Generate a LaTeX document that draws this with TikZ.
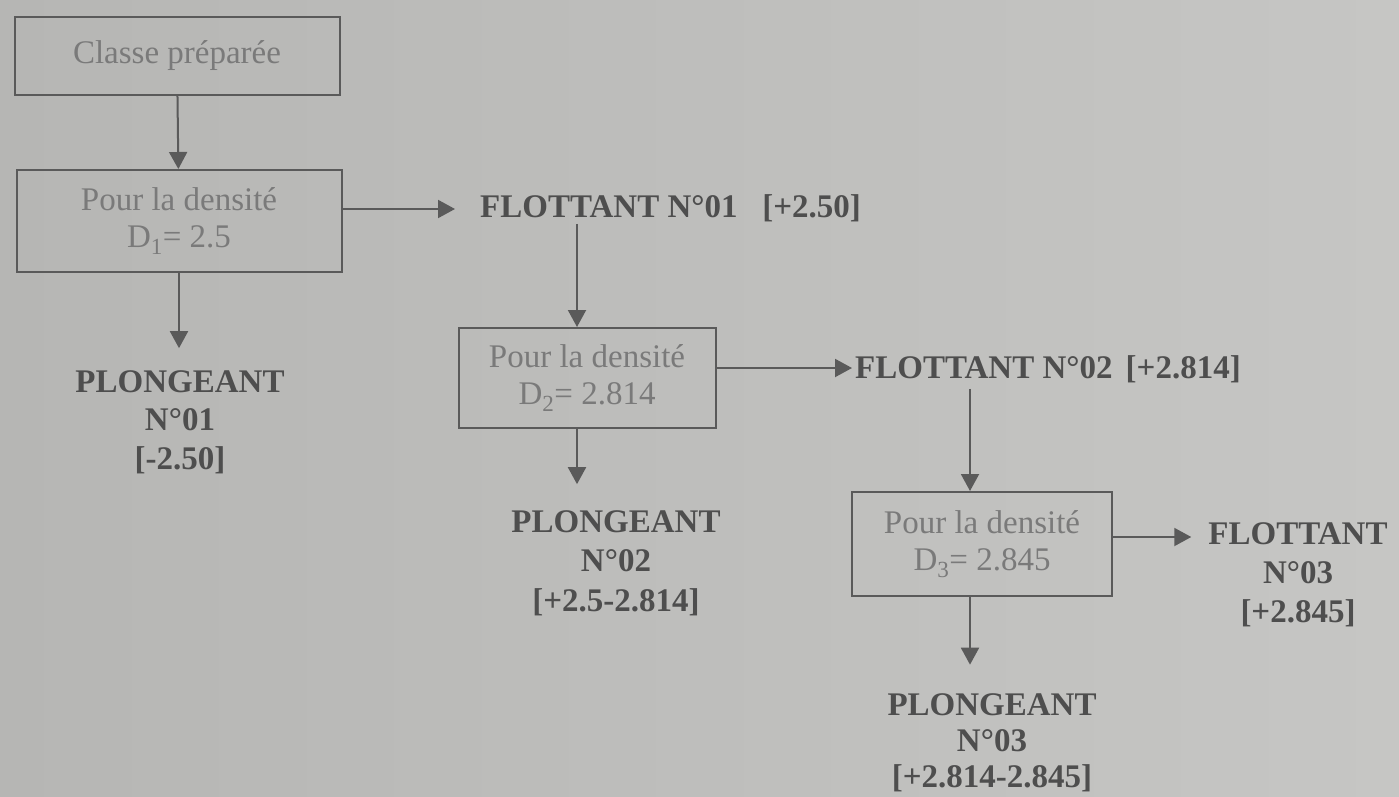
\documentclass[tikz,border=0pt]{standalone}
\usepackage{fontspec}
\setmainfont{Liberation Serif}
\usetikzlibrary{arrows.meta}
\definecolor{paperL}{RGB}{182,182,180}
\definecolor{paperR}{RGB}{198,198,196}
\definecolor{ink}{RGB}{78,78,78}
\definecolor{faint}{RGB}{122,122,122}
\definecolor{rule}{RGB}{90,90,90}
\begin{document}
\begin{tikzpicture}[x=1pt,y=-1pt,
  box/.style={draw=rule, line width=2pt, inner sep=0pt, align=center,
    text=faint, font=\fontsize{33}{37}\selectfont},
  result/.style={inner sep=0pt, align=center, text=ink,
    font=\fontsize{33}{38}\selectfont\bfseries},
  link/.style={draw=rule, line width=2pt, -{Triangle[length=17pt,width=18pt]}}]
% paper
\shade[left color=paperL, right color=paperR] (0,0) rectangle (1399,797);
\useasboundingbox (0,0) rectangle (1399,797);

% process boxes
\node[box, minimum width=325pt, minimum height=78pt]  (start) at (177,56)  {Classe préparée};
\node[box, minimum width=325pt, minimum height=102pt] (d1) at (179,221) {Pour la densité\\D\textsubscript{1}= 2.5};
\node[box, minimum width=257pt, minimum height=100pt] (d2) at (587,378) {Pour la densité\\D\textsubscript{2}= 2.814};
\node[box, minimum width=260pt, minimum height=104pt] (d3) at (982,544) {Pour la densité\\D\textsubscript{3}= 2.845};

% outcomes
\node[result, anchor=west] (f1) at (480,208) {FLOTTANT N°01\hspace{0.75em}[+2.50]};
\node[result, anchor=west] (f2) at (855,369) {FLOTTANT N°02\hspace{0.4em}[+2.814]};
\node[result, font=\fontsize{33}{39}\selectfont\bfseries] (f3) at (1298,575) {FLOTTANT\\N°03\\{[+2.845]}};
\node[result, font=\fontsize{33}{38.5}\selectfont\bfseries] (p1) at (180,422) {PLONGEANT\\N°01\\{[-2.50]}};
\node[result, font=\fontsize{33}{39.5}\selectfont\bfseries] (p2) at (616,563) {PLONGEANT\\N°02\\{[+2.5-2.814]}};
\node[result, font=\fontsize{33}{36}\selectfont\bfseries] (p3) at (992,743) {PLONGEANT\\N°03\\{[+2.814-2.845]}};

% entry points of the lower boxes
\coordinate (in2) at ([xshift=-10pt]d2.north);
\coordinate (in3) at ([xshift=-12pt]d3.north);
\coordinate (out2) at ([xshift=-10pt]d2.south);
\coordinate (out3) at ([xshift=-12pt]d3.south);
\coordinate (r1) at ([yshift=12pt]d1.east);
\coordinate (r2) at ([yshift=10pt]d2.east);
\coordinate (r3) at ([yshift=7pt]d3.east);

% connectors
\draw[link] (start) -- (d1);
\draw[link, shorten >=25pt] (r1) -- (r1 -| f1.west);
\draw[link] (d1.south) -- ([yshift=22pt]p1.north -| d1.south);
\draw[link, shorten <=2pt] (f1.south -| in2) -- (in2);
\draw[link, shorten >=3pt] (r2) -- (r2 -| f2.west);
\draw[link] (out2) -- ([yshift=26pt]p2.north -| out2);
\draw[link, shorten <=6pt] (f2.south -| in3) -- (in3);
\draw[link, shorten >=17pt] (r3) -- (r3 -| f3.west);
\draw[link] (out3) -- ([yshift=29pt]p3.north -| out3);
\end{tikzpicture}
\end{document}
